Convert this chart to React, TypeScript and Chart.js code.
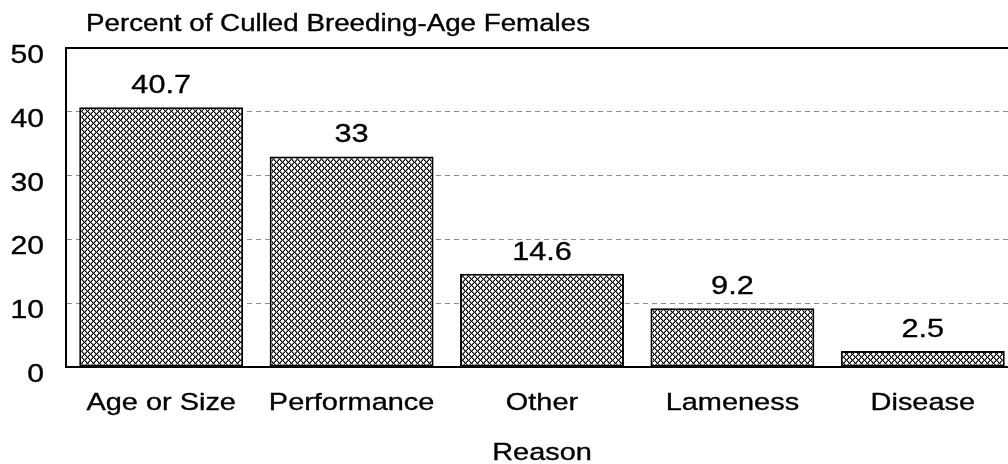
import React, { useEffect, useRef } from 'react';
import { Chart, registerables } from 'chart.js';

Chart.register(...registerables);

const CATEGORIES = ['Age or Size', 'Performance', 'Other', 'Lameness', 'Disease'];
const PERCENT_CULLED = [40.7, 33, 14.6, 9.2, 2.5];
const Y_TICKS = [0, 10, 20, 30, 40, 50];
const CHART_TITLE = 'Percent of Culled Breeding-Age Females';
const X_TITLE = 'Reason';

const SX = 1.18; // horizontal widening of the original typeface
const W = 1019;
const H = 464;
const FONT = '"Liberation Sans", Arial, Helvetica, sans-serif';

function makeHatch(ctx: CanvasRenderingContext2D) {
  const n = 6;
  const tile = document.createElement('canvas');
  tile.width = n;
  tile.height = n;
  const t = tile.getContext('2d')!;
  const img = t.createImageData(n, n);
  for (let j = 0; j < n; j++) {
    for (let i = 0; i < n; i++) {
      const a = (((i - j) % n) + n) % n;
      const b = (i + j) % n;
      let v = 255;
      if (a === 0 || b === 0) v = 0;
      else if (a === 1 || b === 5) v = 120;
      const k = (j * n + i) * 4;
      img.data[k] = v;
      img.data[k + 1] = v;
      img.data[k + 2] = v;
      img.data[k + 3] = 255;
    }
  }
  t.putImageData(img, 0, 0);
  return ctx.createPattern(tile, 'repeat')!;
}

function drawText(
  ctx: CanvasRenderingContext2D,
  text: string,
  x: number,
  y: number,
  size: number,
  align: CanvasTextAlign,
  baseline: CanvasTextBaseline
) {
  ctx.save();
  ctx.translate(x, y);
  ctx.scale(SX, 1);
  ctx.font = `${size}px ${FONT}`;
  ctx.textAlign = align;
  ctx.textBaseline = baseline;
  ctx.fillStyle = '#000';
  ctx.strokeStyle = '#000';
  ctx.lineWidth = 0.35;
  ctx.fillText(text, 0, 0);
  ctx.strokeText(text, 0, 0);
  ctx.restore();
}

const overlayPlugin = {
  id: 'overlay',
  afterDatasetsDraw(chart: any) {
    const { ctx, chartArea } = chart;
    const xScale = chart.scales.x;
    const yScale = chart.scales.y;

    // solid frame line at the top value
    const topY = Math.round(yScale.getPixelForValue(Y_TICKS[Y_TICKS.length - 1]));
    ctx.save();
    ctx.strokeStyle = '#000';
    ctx.lineWidth = 2;
    ctx.beginPath();
    ctx.moveTo(chartArea.left - 1, topY);
    ctx.lineTo(chartArea.right, topY);
    ctx.stroke();
    ctx.restore();

    // y tick labels
    Y_TICKS.forEach((v) => {
      drawText(ctx, String(v), chartArea.left - 22, yScale.getPixelForValue(v) + 8, 25.5, 'right', 'middle');
    });

    // category labels
    CATEGORIES.forEach((c, i) => {
      drawText(ctx, c, xScale.getPixelForValue(i), chartArea.bottom + 36.5, 24.5, 'center', 'middle');
    });

    // axis title
    drawText(ctx, X_TITLE, (chartArea.left + chartArea.right) / 2, chart.height - 10.5, 24.5, 'center', 'middle');

    // value labels
    const meta = chart.getDatasetMeta(0);
    meta.data.forEach((el: any, i: number) => {
      drawText(ctx, String(PERCENT_CULLED[i]), el.x, el.y - 14, 26, 'center', 'alphabetic');
    });

    // chart title
    drawText(ctx, CHART_TITLE, chartArea.left + 20, 31, 23.5, 'left', 'alphabetic');
  },
};

export default function App() {
  const ref = useRef<HTMLCanvasElement | null>(null);

  useEffect(() => {
    const canvas = ref.current!;
    const ctx = canvas.getContext('2d')!;
    const hatch = makeHatch(ctx);
    const chart = new Chart(canvas, {
      type: 'bar',
      data: {
        labels: CATEGORIES,
        datasets: [
          {
            data: PERCENT_CULLED,
            backgroundColor: hatch,
            borderColor: '#000',
            borderWidth: 2,
            borderSkipped: false,
            barPercentage: 0.861,
            categoryPercentage: 1,
          },
        ],
      },
      options: {
        animation: false,
        responsive: true,
        maintainAspectRatio: false,
        devicePixelRatio: 1,
        layout: { padding: { top: 48, right: 1, bottom: 0, left: 0 } },
        plugins: {
          legend: { display: false },
          title: { display: false },
          tooltip: { enabled: false },
        },
        scales: {
          x: {
            grid: { display: false, drawTicks: false },
            border: { display: true, color: '#000', width: 2 },
            ticks: { display: false },
            afterFit: (s: any) => {
              s.height = 97;
            },
          },
          y: {
            min: 0,
            max: 50,
            afterBuildTicks: (s: any) => {
              s.ticks = Y_TICKS.map((v) => ({ value: v }));
            },
            grid: {
              drawTicks: false,
              color: (c: any) =>
                c.tick && (c.tick.value === 0 || c.tick.value === 50) ? 'rgba(0,0,0,0)' : '#8c8c8c',
              lineWidth: 1,
            },
            border: { display: true, color: '#000', width: 2, dash: [5, 4] },
            ticks: { display: false },
            afterFit: (s: any) => {
              s.width = 66;
            },
          },
        },
      },
      plugins: [overlayPlugin],
    });
    return () => chart.destroy();
  }, []);

  return (
    <div
      style={{
        position: 'fixed',
        left: 0,
        top: 0,
        width: 1008,
        height: 464,
        overflow: 'hidden',
        background: '#fff',
      }}
    >
      <div style={{ position: 'relative', width: W, height: H }}>
        <canvas ref={ref} />
      </div>
    </div>
  );
}
